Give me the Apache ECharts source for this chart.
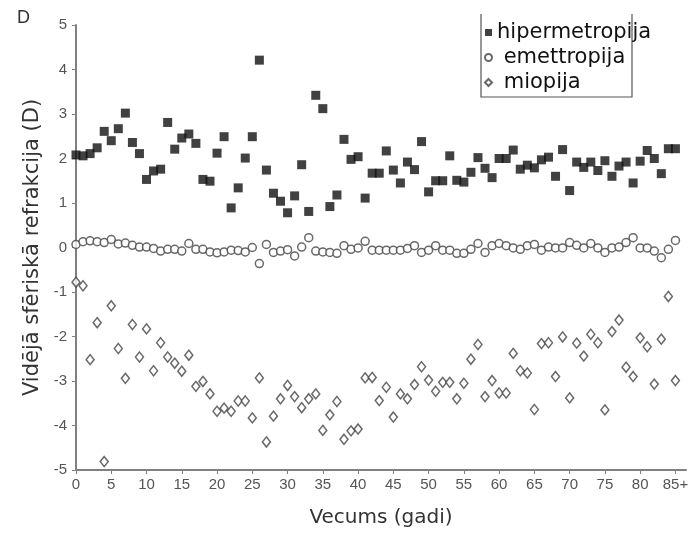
<!DOCTYPE html>
<html>
<head>
<meta charset="utf-8">
<script src="https://cdn.jsdelivr.net/npm/echarts@6/dist/echarts.min.js"></script>
<style>
html,body{margin:0;padding:0;background:#fff;}
#chart{width:700px;height:533px;}
</style>
</head>
<body>
<div id="chart"></div>
<script>
// Ages 0 .. 85 (85 = "85+")
const ages = [];
for (let a = 0; a <= 85; a++) ages.push(a);

const xTickLabels = ['0','5','10','15','20','25','30','35','40','45','50','55','60','65','70','75','80','85+'];
const yTickLabels = ['-5','-4','-3','-2','-1','0','1','2','3','4','5'];

const hipermetropija = [
  2.08, 2.06, 2.11, 2.24, 2.61, 2.40, 2.67, 3.02, 2.36, 2.11,
  1.53, 1.72, 1.76, 2.81, 2.21, 2.46, 2.55, 2.34, 1.53, 1.49,
  2.12, 2.49, 0.89, 1.34, 2.01, 2.49, 4.21, 1.74, 1.22, 1.04,
  0.78, 1.16, 1.86, 0.81, 3.42, 3.12, 0.92, 1.18, 2.43, 1.98,
  2.04, 1.11, 1.67, 1.67, 2.17, 1.74, 1.45, 1.92, 1.75, 2.38,
  1.25, 1.50, 1.50, 2.06, 1.51, 1.47, 1.69, 2.02, 1.78, 1.57,
  2.00, 2.00, 2.19, 1.76, 1.85, 1.79, 1.97, 2.03, 1.60, 2.20,
  1.28, 1.92, 1.80, 1.92, 1.73, 1.95, 1.60, 1.83, 1.92, 1.45,
  1.94, 2.18, 2.00, 1.66, 2.22, 2.22
];

const emettropija = [
  0.07, 0.13, 0.15, 0.13, 0.11, 0.18, 0.08, 0.10, 0.05, 0.01,
  0.01, -0.02, -0.08, -0.04, -0.04, -0.08, 0.09, -0.04, -0.04, -0.10,
  -0.12, -0.10, -0.06, -0.07, -0.10, 0.00, -0.36, 0.07, -0.11, -0.08,
  -0.05, -0.19, 0.01, 0.22, -0.08, -0.10, -0.11, -0.13, 0.04, -0.04,
  -0.01, 0.14, -0.06, -0.06, -0.06, -0.06, -0.06, -0.02, 0.04, -0.11,
  -0.06, 0.04, -0.06, -0.06, -0.13, -0.13, -0.04, 0.09, -0.11, 0.04,
  0.09, 0.04, -0.01, -0.04, 0.04, 0.07, -0.06, 0.01, -0.01, -0.01,
  0.11, 0.05, -0.01, 0.09, -0.01, -0.11, -0.01, 0.01, 0.11, 0.22,
  -0.01, -0.01, -0.08, -0.23, -0.04, 0.16
];

const miopija = [
  -0.78, -0.86, -2.52, -1.69, -4.81, -1.31, -2.27, -2.94, -1.73, -2.46,
  -1.83, -2.77, -2.14, -2.46, -2.60, -2.78, -2.42, -3.12, -3.01, -3.29,
  -3.68, -3.61, -3.68, -3.45, -3.45, -3.83, -2.93, -4.37, -3.79, -3.40,
  -3.10, -3.35, -3.60, -3.40, -3.29, -4.11, -3.76, -3.46, -4.31, -4.12,
  -4.08, -2.93, -2.92, -3.44, -3.14, -3.81, -3.29, -3.40, -3.08, -2.68,
  -2.98, -3.23, -3.03, -3.03, -3.40, -3.05, -2.51, -2.18, -3.35, -2.99,
  -3.27, -3.27, -2.38, -2.77, -2.82, -3.64, -2.16, -2.14, -2.90, -2.01,
  -3.38, -2.15, -2.44, -1.95, -2.14, -3.65, -1.89, -1.63, -2.69, -2.90,
  -2.03, -2.23, -3.07, -2.06, -1.10, -2.99
];

const seriesNames = ['hipermetropija', 'emettropija', 'miopija'];

function pairs(vals) { return ages.map((a, i) => [a, vals[i]]); }

const chart = echarts.init(document.getElementById('chart'), null, {renderer: 'canvas'});
const axisCol = '#808080';
const labelCol = '#555';

chart.setOption({
  animation: false,
  backgroundColor: '#fff',
  grid: {left: 76, right: 14, top: 25, bottom: 59, containLabel: false},
  xAxis: {
    type: 'value', min: 0, max: 86.5, interval: 5,
    axisLine: {onZero: false, lineStyle: {color: axisCol, width: 2}},
    axisTick: {show: true, length: 4, lineStyle: {color: axisCol, width: 1}},
    splitLine: {show: false},
    axisLabel: {
      color: labelCol, fontFamily: 'Liberation Sans, Arial', fontSize: 15, margin: 7,
      showMaxLabel: false,
      formatter: v => { const i = Math.round(v / 5); return (v % 5 === 0 && i < xTickLabels.length) ? xTickLabels[i] : ''; }
    },
    name: 'Vecums (gadi)', nameLocation: 'middle', nameGap: 38,
    nameTextStyle: {color: '#333', fontFamily: 'DejaVu Sans', fontSize: 20}
  },
  yAxis: {
    type: 'value', min: -5, max: 5, interval: 1,
    axisLine: {lineStyle: {color: axisCol, width: 2}},
    axisTick: {show: true, length: 4, lineStyle: {color: axisCol, width: 1}},
    splitLine: {show: false},
    axisLabel: {
      color: labelCol, fontFamily: 'Liberation Sans, Arial', fontSize: 15, margin: 9,
      formatter: v => yTickLabels[Math.round(v) + 5]
    },
    name: 'Vidējā sfēriskā refrakcija (D)', nameLocation: 'middle', nameGap: 30,
    nameTextStyle: {color: '#333', fontFamily: 'DejaVu Sans', fontSize: 21}
  },
  legend: {
    orient: 'vertical', left: 482, top: 20, itemGap: 4,
    itemWidth: 7, itemHeight: 7, padding: 2,
    textStyle: {color: '#111', fontFamily: 'DejaVu Sans', fontSize: 21},
    formatter: n => n === 'hipermetropija' ? n : ' ' + n,
    data: [
      {name: seriesNames[0], icon: 'rect'},
      {name: seriesNames[1], icon: 'circle'},
      {name: seriesNames[2], icon: 'diamond'}
    ]
  },
  graphic: [
    {type: 'text', left: 17, top: 9, style: {text: 'D', fill: '#333', font: '18px Liberation Sans'}},
    {type: 'polyline', shape: {points: [[481, 14], [481, 97], [632, 97], [632, 14]]}, style: {fill: 'none', stroke: '#555', lineWidth: 1.2}, z: 1}
  ],
  series: [
    {
      name: seriesNames[0], type: 'scatter', data: pairs(hipermetropija),
      symbol: 'rect', symbolSize: 9,
      itemStyle: {color: '#111', borderColor: '#111', borderWidth: 0}
    },
    {
      name: seriesNames[1], type: 'scatter', data: pairs(emettropija),
      symbol: 'circle', symbolSize: 8,
      itemStyle: {color: '#fff', borderColor: '#444', borderWidth: 1.5}
    },
    {
      name: seriesNames[2], type: 'scatter', data: pairs(miopija),
      symbol: 'diamond', symbolSize: [8, 10],
      itemStyle: {color: '#fff', borderColor: '#444', borderWidth: 1.5}
    }
  ]
});
</script>
</body>
</html>
